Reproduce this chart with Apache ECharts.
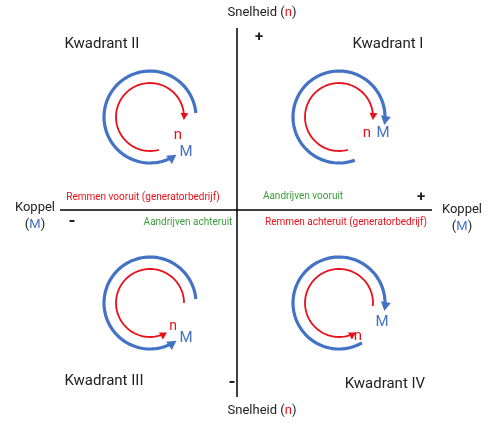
<!DOCTYPE html><html><head><meta charset="utf-8"><script src="https://cdn.jsdelivr.net/npm/echarts@6/dist/echarts.min.js"></script></head><body style="margin:0"><div id="c" style="width:500px;height:427px"></div><script>
// arc definitions: [cx, cy, radius, startDeg, endDeg, colorIndex]
const arcCx=[339,339,150,150,150,150,339,339];
const arcCy=[117,117,117,117,303,303,303,303];
const arcR=[46,34,46,34,46,34,46,34];
const arcStart=[70,75,-5,75,-5,0,60,5];
const arcEnd=[370,365,-305,365,-305,-300,370,-300];
const arcColor=[0,1,0,1,0,1,0,1];
const colors=['#4472C4','#E8101A'];
const data=arcCx.map((x,i)=>[x,arcCy[i],arcR[i],arcStart[i],arcEnd[i],arcColor[i]]);
const chart=echarts.init(document.getElementById('c'));
function renderItem(params,api){
  const c=api.coord([api.value(0),api.value(1)]);
  const r=api.size([api.value(2),0])[0];
  const s=api.value(3)*Math.PI/180,e=api.value(4)*Math.PI/180;
  const col=colors[api.value(5)];
  const dir=e>s?1:-1;
  const pts=[];const n=80;
  const e2=e-dir*0.12;
  for(let k=0;k<=n;k++){const t=s+(e2-s)*k/n;pts.push([c[0]+r*Math.cos(t),c[1]+r*Math.sin(t)]);}
  const tip=[c[0]+r*Math.cos(e),c[1]+r*Math.sin(e)];
  const tx=-Math.sin(e)*dir,ty=Math.cos(e)*dir;
  const L=api.value(5)===0?9:7,W=api.value(5)===0?5:4;
  const b=[tip[0]-tx*L,tip[1]-ty*L];
  const poly=[tip,[b[0]-ty*W,b[1]+tx*W],[b[0]+ty*W,b[1]-tx*W]];
  return {type:'group',children:[
    {type:'polyline',shape:{points:pts},style:{stroke:col,lineWidth:api.value(5)===0?3.2:1.8,fill:null}},
    {type:'polygon',shape:{points:poly},style:{fill:col}}]};
}
const blue='#4472C4',red='#E8101A',green='#3C9C3C',dark='#222';
function t(x,y,text,opt){return Object.assign({type:'text',x:x,y:y,style:Object.assign({text:text,fill:dark,font:'15px Roboto',align:'center',verticalAlign:'middle'},opt||{})});}
function rich(x,y,size){return {type:'text',x:x,y:y,style:{text:'{a|Snelheid (}{b|n}{a|)}',align:'center',verticalAlign:'middle',rich:{a:{fill:dark,fontSize:size,fontFamily:'Roboto'},b:{fill:red,fontSize:size,fontFamily:'Roboto'}}}};}
function kop(x,y){return [t(x,y,'Koppel',{font:'13px Roboto'}),{type:'text',x:x,y:y+17,style:{text:'({b|M})',align:'center',verticalAlign:'middle',fill:dark,font:'13px Roboto',rich:{b:{fill:blue,fontSize:13,fontFamily:'Roboto'}}}}];}
chart.setOption({
  animation:false,
  grid:{left:0,right:0,top:0,bottom:0},
  xAxis:{type:'value',min:0,max:500,show:false},
  yAxis:{type:'value',min:0,max:427,inverse:true,show:false},
  series:[{type:'custom',renderItem:renderItem,data:data,silent:true},
    {type:'line',data:[[237,28],[237,397]],symbol:'none',lineStyle:{color:'#000',width:1.5},silent:true},
    {type:'line',data:[[60,210],[432,210]],symbol:'none',lineStyle:{color:'#000',width:1.5},silent:true}],
  graphic:[
    rich(262,13,13),rich(262,411,13),
    t(259,37,'+',{font:'bold 15px Roboto'}),t(232,383,'-',{font:'bold 18px Roboto'}),
    t(421,197,'+',{font:'bold 15px Roboto'}),t(72,222,'-',{font:'bold 18px Roboto'}),
    ...kop(35,208),...kop(462,210),
    t(102,44,'Kwadrant II'),t(388,44,'Kwadrant I'),t(104,381,'Kwadrant III'),t(385,384,'Kwadrant IV'),
    t(143,197,'Remmen vooruit (generatorbedrijf)',{fill:red,font:'10px Roboto'}),
    t(303,196,'Aandrijven vooruit',{fill:green,font:'10px Roboto'}),
    t(188,222,'Aandrijven achteruit',{fill:green,font:'10px Roboto'}),
    t(346,222,'Remmen achteruit (generatorbedrijf)',{fill:red,font:'10px Roboto'}),
    t(367,133,'n',{fill:red,font:'15px Roboto'}),t(383,133,'M',{fill:blue,font:'15px Roboto'}),
    t(178,135,'n',{fill:red,font:'15px Roboto'}),t(186,152,'M',{fill:blue,font:'15px Roboto'}),
    t(173,326,'n',{fill:red,font:'14px Roboto'}),t(186,338,'M',{fill:blue,font:'15px Roboto'}),
    t(382,322,'M',{fill:blue,font:'15px Roboto'}),t(358,336,'n',{fill:red,font:'15px Roboto'})
  ]
});
</script></body></html>
